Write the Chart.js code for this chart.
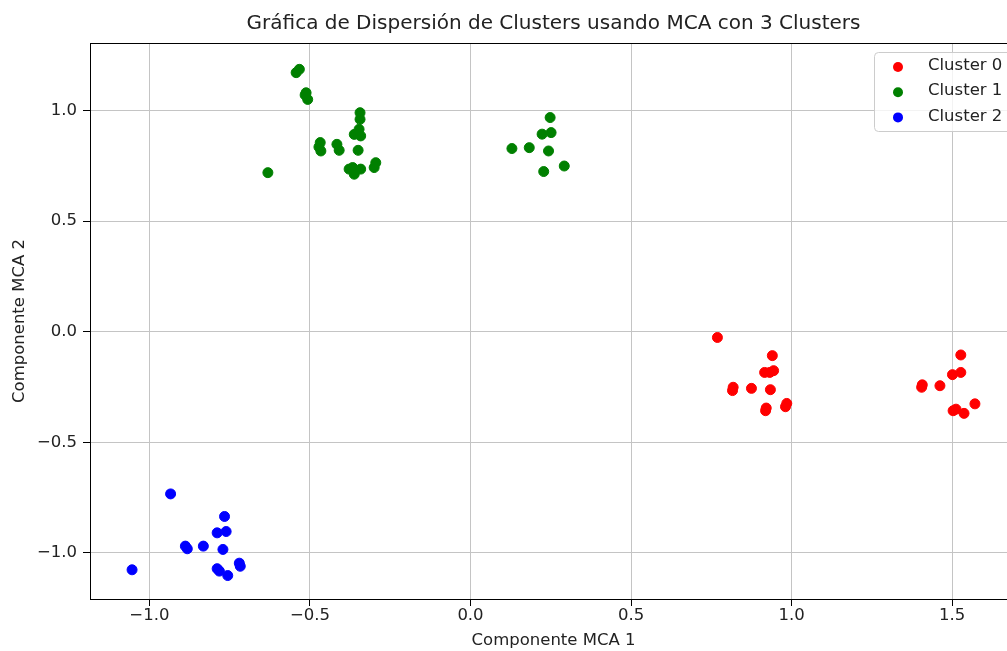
<!DOCTYPE html>
<html>
<head>
<meta charset="utf-8">
<script src="https://cdn.jsdelivr.net/npm/chart.js@4/dist/chart.umd.min.js"></script>
<style>
  html, body { margin: 0; padding: 0; background: #fff; overflow: hidden; }
  #wrap { position: relative; width: 1030px; height: 651px; }
</style>
</head>
<body>
<div id="wrap"><canvas id="c"></canvas></div>
<script>
// ---- Data ----
const chartTitle = 'Gráfica de Dispersión de Clusters usando MCA con 3 Clusters';
const xAxisTitle = 'Componente MCA 1';
const yAxisTitle = 'Componente MCA 2';
const seriesNames = ['Cluster 0', 'Cluster 1', 'Cluster 2'];
const seriesColors = ['#ff0000', '#008000', '#0000ff'];

const cluster0X = [0.769, 0.940, 0.932, 0.944, 0.916, 0.818, 0.816, 0.875, 0.934, 0.919, 0.921, 0.985, 0.981,
                   1.527, 1.527, 1.501, 1.405, 1.407, 1.462, 1.503, 1.537, 1.571, 1.512];
const cluster0Y = [-0.026, -0.108, -0.184, -0.176, -0.184, -0.251, -0.266, -0.256, -0.262, -0.357, -0.345, -0.324, -0.339,
                   -0.105, -0.184, -0.194, -0.251, -0.240, -0.244, -0.357, -0.369, -0.326, -0.350];

const cluster1X = [-0.543, -0.533, -0.512, -0.507, -0.515, -0.631, -0.344, -0.344, -0.347, -0.362, -0.342, -0.350,
                   -0.468, -0.466, -0.472, -0.416, -0.409, -0.367, -0.362, -0.342, -0.378, -0.295, -0.300,
                   0.248, 0.223, 0.251, 0.129, 0.183, 0.243, 0.228, 0.292];
const cluster1Y = [1.171, 1.186, 1.080, 1.050, 1.070, 0.719, 0.990, 0.960, 0.915, 0.892, 0.885, 0.820,
                   0.855, 0.817, 0.835, 0.847, 0.820, 0.742, 0.712, 0.735, 0.735, 0.764, 0.742,
                   0.968, 0.893, 0.900, 0.828, 0.832, 0.817, 0.724, 0.749];

const cluster2X = [-0.934, -1.054, -0.766, -0.789, -0.761, -0.888, -0.882, -0.832, -0.771, -0.789, -0.782, -0.756, -0.720, -0.717];
const cluster2Y = [-0.733, -1.076, -0.835, -0.909, -0.903, -0.969, -0.981, -0.969, -0.984, -1.071, -1.082, -1.102, -1.046, -1.060];

const xTickValues = [-1.0, -0.5, 0.0, 0.5, 1.0, 1.5];
const xTickLabels = ['\u22121.0', '\u22120.5', '0.0', '0.5', '1.0', '1.5'];
const yTickValues = [-1.0, -0.5, 0.0, 0.5, 1.0];
const yTickLabels = ['\u22121.0', '\u22120.5', '0.0', '0.5', '1.0'];

const xRange = [-1.185, 1.702];
const yRange = [-1.208, 1.305];

// ---- Build ----
const FONT = 'DejaVu Sans';
const TEXT = '#222222';

function pts(xs, ys) { return xs.map((x, i) => ({ x: x, y: ys[i] })); }
const allX = [cluster0X, cluster1X, cluster2X];
const allY = [cluster0Y, cluster1Y, cluster2Y];

const datasets = seriesNames.map((name, i) => ({
  label: name,
  data: pts(allX[i], allY[i]),
  backgroundColor: seriesColors[i],
  borderColor: seriesColors[i],
  borderWidth: 1,
  pointRadius: 5,
  pointHoverRadius: 5
}));

const framePlugin = {
  id: 'frame',
  afterDraw(chart) {
    const { ctx, chartArea: a } = chart;
    ctx.save();
    // spines
    ctx.strokeStyle = '#000';
    ctx.lineWidth = 1;
    ctx.strokeRect(a.left + 0.5, a.top + 0.5, a.right - a.left, a.bottom - a.top);
    // title
    ctx.fillStyle = TEXT;
    ctx.font = '20px "' + FONT + '"';
    ctx.textAlign = 'center';
    ctx.textBaseline = 'middle';
    ctx.fillText(chartTitle, (a.left + a.right) / 2, 24);
    // legend
    const lx = a.right - 143, ly = a.top + 9, lw = 150, lh = 79;
    ctx.beginPath();
    if (ctx.roundRect) ctx.roundRect(lx + 0.5, ly + 0.5, lw, lh, 4); else ctx.rect(lx + 0.5, ly + 0.5, lw, lh);
    ctx.fillStyle = 'rgba(255,255,255,0.8)';
    ctx.fill();
    ctx.strokeStyle = '#cccccc';
    ctx.stroke();
    ctx.font = '16.5px "' + FONT + '"';
    ctx.textAlign = 'left';
    chart.data.datasets.forEach((ds, i) => {
      const cy = ly + 15 + i * 25.2;
      ctx.beginPath();
      ctx.arc(lx + 24, cy, 5, 0, Math.PI * 2);
      ctx.fillStyle = ds.backgroundColor;
      ctx.fill();
      ctx.fillStyle = TEXT;
      ctx.fillText(ds.label, lx + 54, cy - 1);
    });
    ctx.restore();
  }
};

new Chart(document.getElementById('c'), {
  type: 'scatter',
  data: { datasets: datasets },
  plugins: [framePlugin],
  options: {
    responsive: true,
    maintainAspectRatio: false,
    animation: false,
    layout: { padding: { left: 0, right: 13, top: 43, bottom: 0 } },
    plugins: {
      legend: { display: false },
      title: { display: false },
      tooltip: { enabled: false }
    },
    scales: {
      x: {
        type: 'linear',
        min: xRange[0],
        max: xRange[1],
        afterBuildTicks(scale) { scale.ticks = xTickValues.map(v => ({ value: v })); },
        afterFit(scale) { scale.height = 52; },
        ticks: {
          color: TEXT,
          font: { family: FONT, size: 16.5 },
          padding: 0,
          maxRotation: 0,
          callback(v) { const i = xTickValues.indexOf(v); return i >= 0 ? xTickLabels[i] : ''; }
        },
        grid: { color: '#c4c4c4', lineWidth: 1, tickColor: '#000', tickLength: 7, drawTicks: true },
        border: { display: true, color: '#000', width: 1 },
        title: { display: true, text: xAxisTitle, color: TEXT, font: { family: FONT, size: 16.5 }, padding: { top: 0, bottom: 0 } }
      },
      y: {
        type: 'linear',
        min: yRange[0],
        max: yRange[1],
        afterBuildTicks(scale) { scale.ticks = yTickValues.map(v => ({ value: v })); },
        afterFit(scale) { scale.width = 90; },
        ticks: {
          color: TEXT,
          font: { family: FONT, size: 16.5 },
          padding: 6,
          callback(v) { const i = yTickValues.indexOf(v); return i >= 0 ? yTickLabels[i] : ''; }
        },
        grid: { color: '#c4c4c4', lineWidth: 1, tickColor: '#000', tickLength: 7, drawTicks: true },
        border: { display: true, color: '#000', width: 1 },
        title: { display: true, text: yAxisTitle, color: TEXT, font: { family: FONT, size: 16.5 }, padding: { top: 10, bottom: 0 } }
      }
    }
  }
});
</script>
</body>
</html>
